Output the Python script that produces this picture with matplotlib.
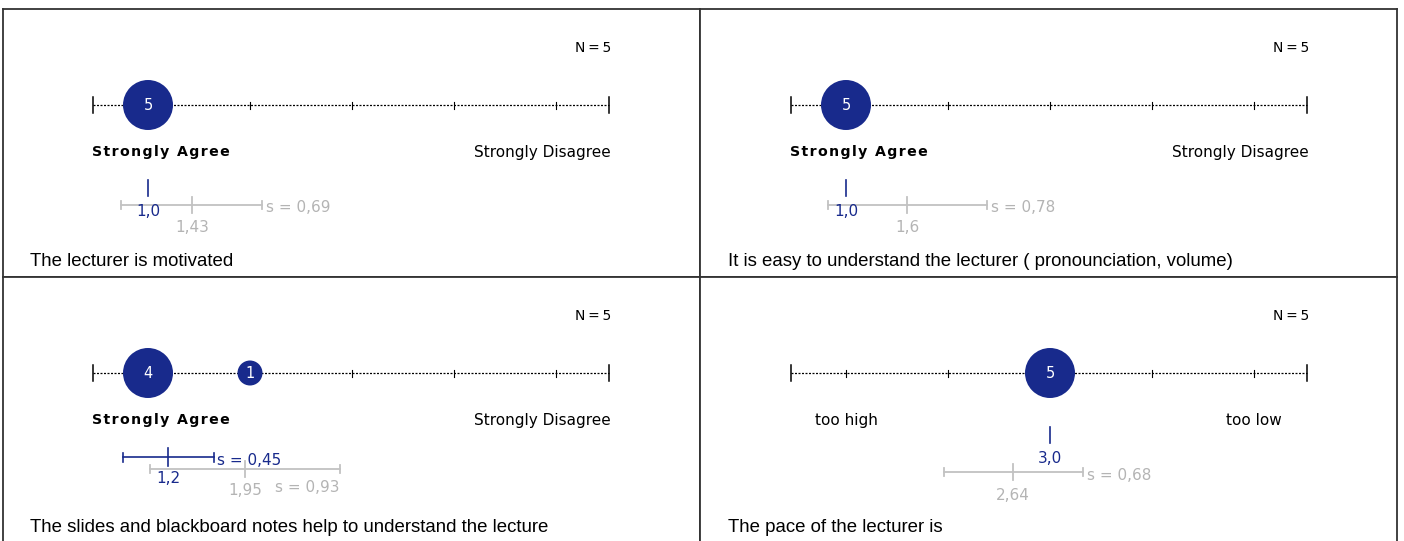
import matplotlib
matplotlib.use('Agg')
import matplotlib.pyplot as plt

plt.rcParams['font.family'] = ['DejaVu Sans']

# Daten der vier Fragen
questions = ['The lecturer is motivated',
             'It is easy to understand the lecturer ( pronounciation, volume)',
             'The slides and blackboard notes help to understand the lecture',
             'The pace of the lecturer is']
left_labels = ['Strongly Agree', 'Strongly Agree', 'Strongly Agree', 'too high']
right_labels = ['Strongly Disagree', 'Strongly Disagree', 'Strongly Disagree', 'too low']
left_bold = [True, True, True, False]
scale_values = [1, 2, 3, 4, 5]
counts = [[5, 0, 0, 0, 0],
          [5, 0, 0, 0, 0],
          [4, 1, 0, 0, 0],
          [0, 0, 5, 0, 0]]
n_resp = [5, 5, 5, 5]
means = [1.0, 1.0, 1.2, 3.0]
sds = [0.0, 0.0, 0.45, 0.0]
ref_means = [1.43, 1.6, 1.95, 2.64]
ref_sds = [0.69, 0.78, 0.93, 0.68]

BLUE = '#182a8c'
GRAY_LINE = '#c2c2c2'
GRAY_TXT = '#b4b4b4'
FS = 11

# Layout (Pixel ab Oberkante des Panels)
layout = [
    dict(blue_y=179, blue_lab=202, gray_y=196, gray_lab=219, s_below=False, centered=False),
    dict(blue_y=179, blue_lab=202, gray_y=196, gray_lab=219, s_below=False, centered=False),
    dict(blue_y=180, blue_lab=201, gray_y=192, gray_lab=213, s_below=True, centered=False),
    dict(blue_y=158, blue_lab=181, gray_y=195, gray_lab=218, s_below=False, centered=True),
]


def spaced(s):
    # Sperrsatz mit Haarspatien
    return '\u200a'.join(s)


def comma(x, fmt):
    return format(x, fmt).replace('.', ',')


W, H = 1404, 541
fig = plt.figure(figsize=(W / 100, H / 100), dpi=100)

PX = 102.0          # Pixel pro Skalenschritt
panel_w, panel_h = 697, 268
lefts = [3, 700]
tops = [9, 277]
v1_off = [145, 146]  # Abstand Panelrand -> Wert 1

for i in range(4):
    row, col = divmod(i, 2)
    x0, y0 = lefts[col], tops[row]
    ax = fig.add_axes([x0 / W, 1 - (y0 + panel_h) / H, panel_w / W, panel_h / H])
    ax.set_xlim(1 - v1_off[col] / PX, 1 + (panel_w - v1_off[col]) / PX)
    ax.set_ylim(panel_h, 0)
    ax.set_xticks([])
    ax.set_yticks([])
    for sp in ax.spines.values():
        sp.set_color('#333333')
        sp.set_linewidth(1.3)
    lay = layout[i]

    # Skala
    sy = 96
    ax.plot([0.46, 5.52], [sy, sy], color='black', lw=0.9, ls=(0, (1.6, 1.2)), zorder=1)
    for e in (0.46, 5.52):
        ax.plot([e, e], [sy - 8, sy + 8], color='black', lw=1.1, zorder=1)
    for v in scale_values:
        ax.plot([v, v], [sy - 3.5, sy + 3.5], color='black', lw=0.8, zorder=1)

    # Kreise
    for v, c in zip(scale_values, counts[i]):
        if c == 0:
            continue
        r = min(25, 12.5 * c ** 0.5)
        ax.scatter([v], [sy], s=(2 * r * 0.72) ** 2, color=BLUE, edgecolors='none', zorder=3)
        ax.text(v, sy, str(c), color='white', fontsize=10.5, ha='center', va='center', zorder=4)

    ax.text(5.54, 39, 'N\u2009=\u2009%d' % n_resp[i], fontsize=10, ha='right', va='center')

    # Beschriftungen
    if lay['centered']:
        ax.text(1, 143, left_labels[i], fontsize=FS, ha='center', va='center',
                fontweight='bold' if left_bold[i] else 'normal')
        ax.text(5, 143, right_labels[i], fontsize=FS, ha='center', va='center')
    else:
        if left_bold[i]:
            ax.text(0.45, 143, spaced(left_labels[i]), fontsize=10.2, ha='left',
                    va='center', fontweight='bold')
        else:
            ax.text(0.45, 143, left_labels[i], fontsize=FS, ha='left', va='center')
        ax.text(5.54, 143, right_labels[i], fontsize=FS, ha='right', va='center')

    # Referenzmittelwert (grau)
    gm, gs, gy = ref_means[i], ref_sds[i], lay['gray_y']
    ax.plot([gm - gs, gm + gs], [gy, gy], color=GRAY_LINE, lw=1.3, zorder=2)
    for e in (gm - gs, gm + gs):
        ax.plot([e, e], [gy - 4, gy + 4], color=GRAY_LINE, lw=1.3, zorder=2)
    ax.plot([gm, gm], [gy - 8, gy + 8], color=GRAY_LINE, lw=1.3, zorder=2)
    ax.text(gm, lay['gray_lab'], comma(gm, 'g'), color=GRAY_TXT, fontsize=FS,
            ha='center', va='center')
    if lay['s_below']:
        ax.text(gm + gs, gy + 18, 's = ' + comma(gs, '.2f'), color=GRAY_TXT,
                fontsize=FS, ha='right', va='center')
    else:
        ax.text(gm + gs + 0.04, gy + 3, 's = ' + comma(gs, '.2f'), color=GRAY_TXT,
                fontsize=FS, ha='left', va='center')

    # Mittelwert dieser Veranstaltung (blau)
    m, s, by = means[i], sds[i], lay['blue_y']
    if s > 0:
        ax.plot([m - s, m + s], [by, by], color=BLUE, lw=1.2, zorder=2)
        for e in (m - s, m + s):
            ax.plot([e, e], [by - 4.5, by + 4.5], color=BLUE, lw=1.2, zorder=2)
        ax.plot([m, m], [by - 9, by + 9], color=BLUE, lw=1.2, zorder=2)
        ax.text(m + s + 0.03, by + 3, 's = ' + comma(s, '.2f'), color=BLUE,
                fontsize=FS, ha='left', va='center')
    else:
        ax.plot([m, m], [by - 8, by + 8], color=BLUE, lw=1.2, zorder=2)
    ax.text(m, lay['blue_lab'], comma(m, '.1f'), color=BLUE, fontsize=FS,
            ha='center', va='center', zorder=3)

    # Frage
    ax.text(-0.16, 252 if row == 0 else 251, questions[i], fontsize=13.4,
            family='Liberation Sans', ha='left', va='center')

fig.savefig('out.png', dpi=100)
